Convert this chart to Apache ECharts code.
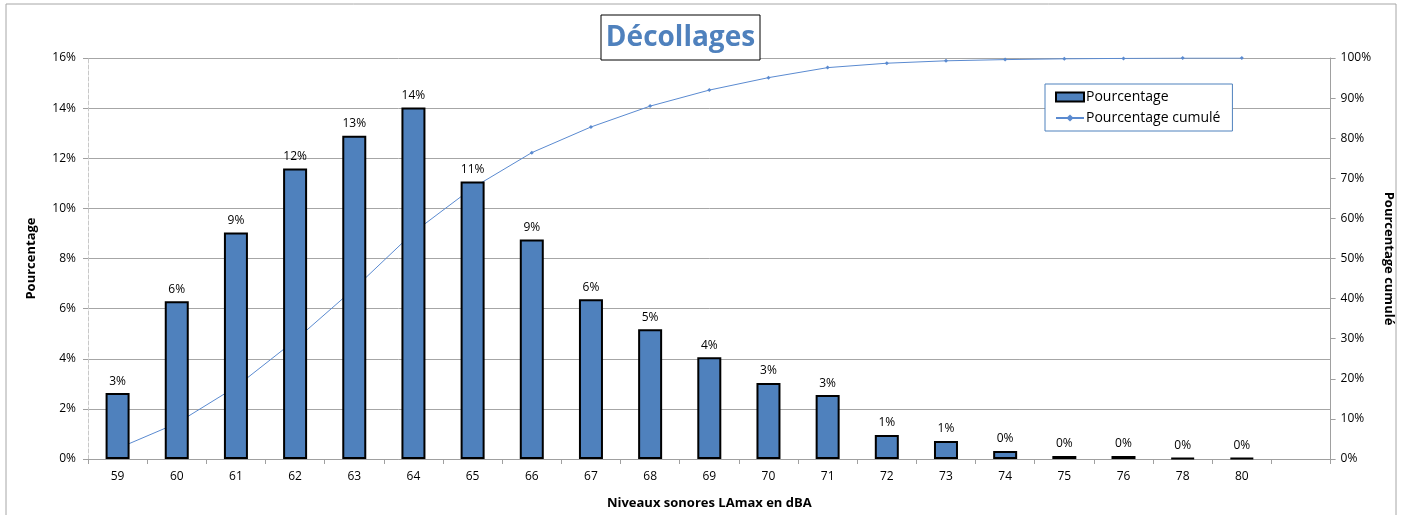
<!DOCTYPE html>
<html>
<head>
<meta charset="utf-8">
<script src="https://cdn.jsdelivr.net/npm/echarts@6/dist/echarts.min.js"></script>
<style>
html,body{margin:0;padding:0;background:#fff;}
#chart{width:1403px;height:515px;}
</style>
</head>
<body>
<div id="chart"></div>
<script>
const categories = ['59','60','61','62','63','64','65','66','67','68','69','70','71','72','73','74','75','76','78','80',''];
const pourcentage = [2.63, 6.29, 9.04, 11.59, 12.9, 14.02, 11.07, 8.76, 6.37, 5.18, 4.06, 3.03, 2.55, 0.96, 0.72, 0.32, 0.12, 0.12, 0.04, 0.04];
const cumule = [2.6, 8.9, 18.0, 29.6, 42.5, 56.5, 67.6, 76.4, 82.8, 88.0, 92.0, 95.1, 97.6, 98.7, 99.3, 99.6, 99.8, 99.9, 100, 100];
const leftTicks = {min: 0, max: 16, interval: 2};
const rightTicks = {min: 0, max: 100, interval: 10};

const FONT = '"Open Sans", "Noto Sans", sans-serif';
const BLUE = '#4F81BD';
const chart = echarts.init(document.getElementById('chart'), null, {renderer: 'canvas'});
chart.setOption({
  animation: false,
  backgroundColor: '#fff',
  textStyle: {fontFamily: FONT},
  grid: {left: 88, right: 60, top: 58, bottom: 56, containLabel: false},
  graphic: [
    {type: 'rect', shape: {x: 6, y: 4, width: 1390, height: 520}, style: {fill: 'none', stroke: '#a6a6a6', lineWidth: 1}, z: 0, silent: true},
    {type: 'rect', shape: {x: 601, y: 15, width: 159, height: 45}, style: {fill: '#fff', stroke: '#000', lineWidth: 1}, z: 100},
    {type: 'text', x: 680.5, y: 38, style: {text: 'Décollages', fill: BLUE, font: 'bold 28px ' + FONT, textAlign: 'center', textVerticalAlign: 'middle'}, z: 101}
  ],
  legend: {
    orient: 'vertical',
    left: 1045, top: 84,
    padding: [6, 12, 6, 10],
    itemGap: 7,
    itemWidth: 28, itemHeight: 9,
    borderColor: BLUE, borderWidth: 1,
    backgroundColor: '#fff',
    textStyle: {fontFamily: FONT, fontSize: 14, color: '#000', padding: [0,0,0,-3]},
    data: [
      {name: 'Pourcentage', icon: 'rect'},
      {name: 'Pourcentage cumulé'}
    ]
  },
  xAxis: {
    type: 'category',
    data: categories,
    boundaryGap: true,
    name: 'Niveaux sonores LAmax en dBA',
    nameLocation: 'middle',
    nameGap: 38,
    nameTextStyle: {fontFamily: FONT, fontWeight: 'bold', fontSize: 13, color: '#000'},
    axisLine: {lineStyle: {color: '#a0a0a0', width: 1}},
    axisTick: {show: true, interval: 0, length: 5, lineStyle: {color: '#a0a0a0'}},
    axisLabel: {interval: 0, fontSize: 12, color: '#000', margin: 12, fontFamily: FONT}
  },
  yAxis: [
    {
      type: 'value', min: leftTicks.min, max: leftTicks.max, interval: leftTicks.interval,
      name: 'Pourcentage', nameLocation: 'middle', nameRotate: 90, nameGap: 50,
      nameTextStyle: {fontFamily: FONT, fontWeight: 'bold', fontSize: 13, color: '#000'},
      axisLine: {show: true, lineStyle: {color: '#c8c8c8', type: 'dashed', width: 1}},
      axisTick: {show: true, length: 5, lineStyle: {color: '#a0a0a0'}},
      axisLabel: {formatter: '{value}%', fontSize: 12, color: '#000', margin: 12, fontFamily: FONT},
      splitLine: {show: true, lineStyle: {color: '#a6a6a6', width: 1}}
    },
    {
      type: 'value', min: rightTicks.min, max: rightTicks.max, interval: rightTicks.interval,
      name: 'Pourcentage cumulé', nameLocation: 'middle', nameRotate: -90, nameGap: 38,
      nameTextStyle: {fontFamily: FONT, fontWeight: 'bold', fontSize: 13, color: '#000'},
      axisLine: {show: true, lineStyle: {color: '#a0a0a0', width: 1}},
      axisTick: {show: true, length: 5, lineStyle: {color: '#a0a0a0'}},
      axisLabel: {formatter: '{value}%', fontSize: 12, color: '#000', margin: 10, fontFamily: FONT},
      splitLine: {show: false}
    }
  ],
  series: [
    {
      name: 'Pourcentage',
      type: 'bar',
      yAxisIndex: 0,
      data: pourcentage,
      barWidth: 24,
      z: 3,
      itemStyle: {color: BLUE, borderColor: '#000', borderWidth: 2},
      label: {show: true, position: 'top', distance: 6, fontSize: 12, color: '#000', fontFamily: FONT,
        formatter: p => Math.round(p.value) + '%'}
    },
    {
      name: 'Pourcentage cumulé',
      type: 'line',
      yAxisIndex: 1,
      data: cumule,
      z: 2,
      symbol: 'diamond',
      symbolSize: 4,
      showSymbol: true,
      lineStyle: {color: '#5A8AD0', width: 1},
      itemStyle: {color: '#5A8AD0'}
    }
  ]
});
</script>
</body>
</html>
